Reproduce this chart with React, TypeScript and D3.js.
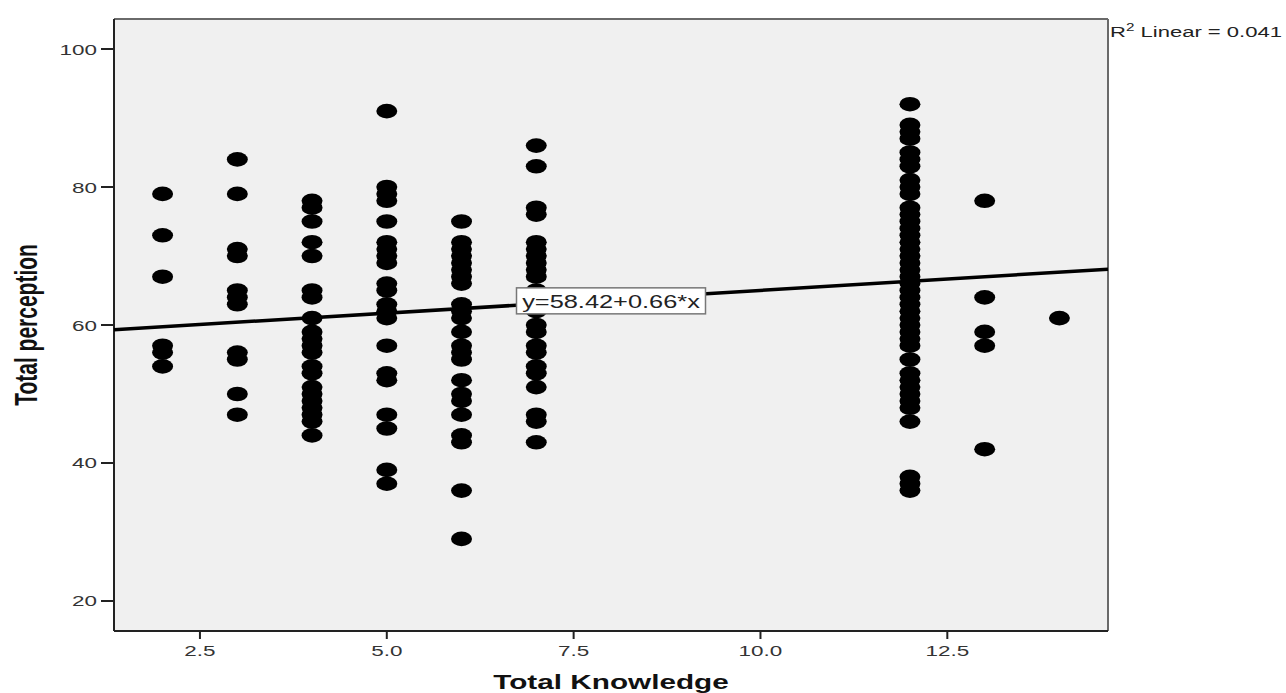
import React from "react";
import * as d3 from "d3";

// Data: Total Knowledge (x) vs Total perception (y), grouped by knowledge score
const knowledgeLevels = [2, 3, 4, 5, 6, 7, 12, 13, 14];
const perception2 = [79, 73, 67, 57, 56, 54];
const perception3 = [84, 79, 71, 70, 65, 64, 63, 56, 55, 50, 47];
const perception4 = [78, 77, 75, 72, 70, 65, 64, 61, 59, 58, 57, 56, 54, 53, 51, 50, 49, 48, 47, 46, 44];
const perception5 = [91, 80, 79, 78, 75, 72, 71, 70, 69, 66, 65, 63, 62, 61, 57, 53, 52, 47, 45, 39, 37];
const perception6 = [75, 72, 71, 70, 69, 68, 67, 66, 63, 62, 61, 59, 57, 56, 55, 52, 50, 49, 47, 44, 43, 36, 29];
const perception7 = [86, 83, 77, 76, 72, 71, 70, 69, 68, 67, 65, 63, 62, 60, 59, 57, 56, 54, 53, 51, 47, 46, 43];
const perception12 = [92, 89, 88, 87, 85, 84, 83, 81, 80, 79, 77, 76, 75, 74, 73, 72, 71, 70, 69, 68, 67, 66, 65, 64, 63, 62, 61, 60, 59, 58, 57, 55, 53, 52, 51, 50, 49, 48, 46, 38, 37, 36];
const perception13 = [78, 64, 59, 57, 42];
const perception14 = [61];
const perceptionByLevel = [perception2, perception3, perception4, perception5, perception6, perception7, perception12, perception13, perception14];

const xTicks = [2.5, 5.0, 7.5, 10.0, 12.5];
const yTicks = [20, 40, 60, 80, 100];
const xDomain = [1.35, 14.65];
const yDomain = [15.65, 104.35];

const INTERCEPT = 58.42;
const SLOPE = 0.66;
const R2 = 0.041;
const fitLabel = "y=58.42+0.66*x";
const fitLabelAt = [8.0, 63.5];

const xTitle = "Total Knowledge";
const yTitle = "Total perception";

const points = knowledgeLevels.flatMap((k, i) => perceptionByLevel[i].map((v) => ({ x: k, y: v })));

const W = 1286;
const H = 693;
const plot = { left: 114, top: 19, right: 1108, bottom: 631 };
const SX = 1.45; // horizontal stretch of the original image
const FONT = "'Liberation Sans', Arial, sans-serif";

function SText({ x, y, anchor = "start", size = 15, weight = "normal", fill = "#222", children }: any) {
  return (
    <text
      transform={`translate(${x},${y}) scale(${SX},1)`}
      textAnchor={anchor}
      fontFamily={FONT}
      fontSize={size}
      fontWeight={weight}
      fill={fill}
    >
      {children}
    </text>
  );
}

export default function App() {
  const x = d3.scaleLinear().domain(xDomain).range([plot.left, plot.right]);
  const y = d3.scaleLinear().domain(yDomain).range([plot.bottom, plot.top]);
  const line = d3
    .line<number>()
    .x((d) => x(d))
    .y((d) => y(INTERCEPT + SLOPE * d));

  const lx = x(fitLabelAt[0]);
  const ly = y(fitLabelAt[1]);
  const boxW = 189;
  const boxH = 26;

  return (
    <svg width={W} height={H} style={{ position: "absolute", left: 0, top: 0, background: "#fff" }}>
      <rect x={plot.left} y={plot.top} width={plot.right - plot.left} height={plot.bottom - plot.top} fill="#f0f0f0" />
      {/* frame */}
      <line x1={plot.left} x2={plot.right} y1={plot.top} y2={plot.top} stroke="#6a6a6a" strokeWidth={2} />
      <line x1={plot.right} x2={plot.right} y1={plot.top} y2={plot.bottom} stroke="#6a6a6a" strokeWidth={2} />
      <line x1={plot.left} x2={plot.left} y1={plot.top} y2={plot.bottom} stroke="#222" strokeWidth={2} />
      <line x1={plot.left} x2={plot.right} y1={plot.bottom} y2={plot.bottom} stroke="#222" strokeWidth={2} />

      {/* y ticks */}
      {yTicks.map((t) => (
        <g key={"y" + t}>
          <line x1={plot.left - 13} x2={plot.left} y1={y(t)} y2={y(t)} stroke="#222" strokeWidth={2} />
          <SText x={plot.left - 17} y={y(t) + 5.5} anchor="end" size={15.5} fill="#333">
            {String(t)}
          </SText>
        </g>
      ))}
      {/* x ticks */}
      {xTicks.map((t) => (
        <g key={"x" + t}>
          <line x1={x(t)} x2={x(t)} y1={plot.bottom} y2={plot.bottom + 8} stroke="#222" strokeWidth={2} />
          <SText x={x(t)} y={plot.bottom + 25} anchor="middle" size={15.5} fill="#333">
            {d3.format(".1f")(t)}
          </SText>
        </g>
      ))}

      {/* points */}
      {points.map((p, i) => (
        <ellipse key={i} cx={x(p.x)} cy={y(p.y)} rx={10.5} ry={7.3} fill="#000" />
      ))}

      {/* fit line */}
      <path d={line(xDomain) || ""} stroke="#000" strokeWidth={3.5} fill="none" />

      {/* fit label */}
      <rect x={lx - boxW / 2} y={ly - boxH / 2} width={boxW} height={boxH} fill="#fff" stroke="#777" strokeWidth={1.5} />
      <SText x={lx} y={ly + 7} anchor="middle" size={17.5} fill="#222">
        {fitLabel}
      </SText>

      {/* R2 */}
      <text
        transform={`translate(${plot.right + 2},${37}) scale(${SX},1)`}
        fontFamily={FONT}
        fontSize={15.2}
        fill="#222"
      >
        R
        <tspan fontSize={10.5} dy={-6}>2</tspan>
        <tspan dy={6}>{` Linear = ${R2}`}</tspan>
      </text>

      {/* axis titles */}
      <SText x={(plot.left + plot.right) / 2} y={689} anchor="middle" size={20.5} weight="bold" fill="#111">
        {xTitle}
      </SText>
      <text
        transform={`translate(37,${(plot.top + plot.bottom) / 2}) scale(${SX},1) rotate(-90)`}
        textAnchor="middle"
        fontFamily={FONT}
        fontSize={21}
        fontWeight="bold"
        fill="#111"
      >
        {yTitle}
      </text>
    </svg>
  );
}
